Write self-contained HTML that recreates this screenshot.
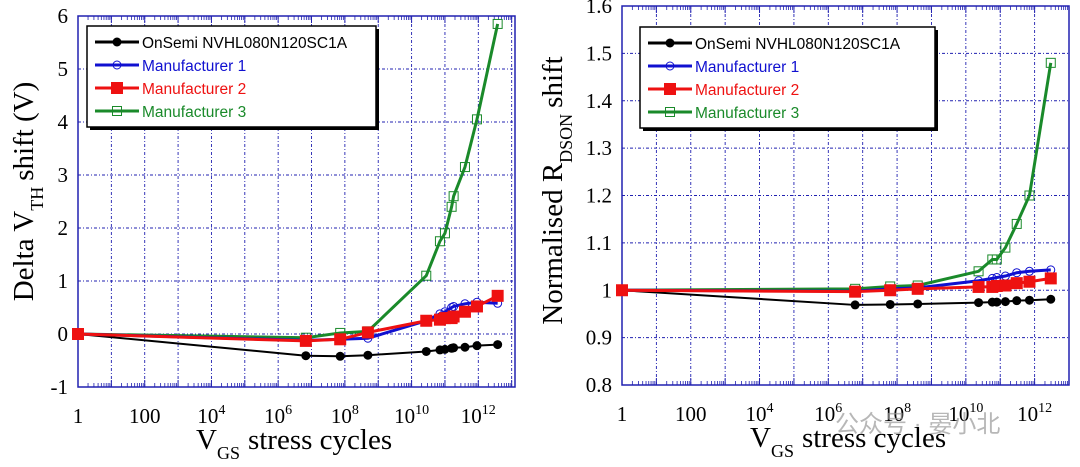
<!DOCTYPE html>
<html><head><meta charset="utf-8"><style>
html,body{margin:0;padding:0;background:#fff;width:1080px;height:467px;overflow:hidden}
svg{display:block}
</style></head><body>
<svg id="s" width="1080" height="467" xmlns="http://www.w3.org/2000/svg"></svg>
<script>
// ---- Data: left chart (Delta VTH shift) ----
const seriesNames = ["OnSemi NVHL080N120SC1A","Manufacturer 1","Manufacturer 2","Manufacturer 3"];
const leftX = [0,6.83,7.86,8.69,10.44,10.85,11.0,11.2,11.26,11.6,11.96,12.58];
const leftOnSemi = [0,-0.41,-0.42,-0.4,-0.33,-0.3,-0.29,-0.27,-0.26,-0.25,-0.22,-0.2];
const leftM1 = [0,-0.12,-0.1,-0.08,0.25,0.38,0.42,0.5,0.52,0.57,0.6,0.58];
const leftM2 = [0,-0.13,-0.1,0.03,0.25,0.27,0.3,0.3,0.33,0.42,0.52,0.72];
const leftM3 = [0,-0.07,0.02,0.05,1.1,1.75,1.9,2.4,2.6,3.15,4.05,5.85];
const leftYTicks = [-1,0,1,2,3,4,5,6];
// ---- Data: right chart (Normalised RDSON shift) ----
const rightX = [0,6.78,7.8,8.6,10.37,10.77,10.9,11.15,11.48,11.85,12.47];
const rightOnSemi = [1,0.969,0.97,0.971,0.974,0.975,0.975,0.976,0.978,0.979,0.981];
const rightM1 = [1,0.998,1.003,1.005,1.02,1.025,1.027,1.03,1.037,1.04,1.043];
const rightM2 = [1,0.997,1.0,1.003,1.007,1.007,1.009,1.01,1.015,1.018,1.025];
const rightM3 = [1,1.003,1.008,1.01,1.04,1.065,1.065,1.09,1.14,1.2,1.48];
const rightYTicks = [0.8,0.9,1,1.1,1.2,1.3,1.4,1.5,1.6];
const xTickExp = [0,2,4,6,8,10,12];

const NS="http://www.w3.org/2000/svg";
const svg=document.getElementById('s');
function mk(tag,attrs,parent){const e=document.createElementNS(NS,tag);for(const k in attrs)e.setAttribute(k,attrs[k]);(parent||svg).appendChild(e);return e;}
const colors=["#000000","#1010d0","#ee1111","#1a8a2a"];
const markers=["dot","circle","square","osquare"];

function chart(cfg){
  const g=mk('g',{});
  
  
  const L=cfg.L,R=cfg.R,T=cfg.T,B=cfg.B;
  const xs=v=>L+(v-cfg.x0)/(cfg.x1-cfg.x0)*(R-L);
  const ys=v=>B-(v-cfg.y0)/(cfg.y1-cfg.y0)*(B-T);
  for(let d=1;d<cfg.x1;d++){const x=xs(d);const l=mk('line',{x1:x,x2:x,y1:T,y2:B,stroke:'#2020b0','stroke-width':0.9,'stroke-dasharray':'3,2,1,2'},g);}
  cfg.yt.forEach(v=>{const y=ys(v);const l=mk('line',{x1:L,x2:R,y1:y,y2:y,stroke:'#2020b0','stroke-width':0.9,'stroke-dasharray':'3,2,1,2'},g);});
  for(let d=0;d<Math.ceil(cfg.x1);d++){for(let m=2;m<10;m++){const v=d+Math.log10(m);if(v>cfg.x1)break;const x=xs(v);mk('line',{x1:x,x2:x,y1:T,y2:T+4,stroke:'#2020b0','stroke-width':0.8},g);mk('line',{x1:x,x2:x,y1:B,y2:B-4,stroke:'#2020b0','stroke-width':0.8},g);}
    const x=xs(d);mk('line',{x1:x,x2:x,y1:T,y2:T+7,stroke:'#2020b0'},g);mk('line',{x1:x,x2:x,y1:B,y2:B-7,stroke:'#2020b0'},g);}
  const frame=mk('rect',{x:L,y:T,width:R-L,height:B-T,fill:'none',stroke:'#2020b0','stroke-width':1.5},g);
  
  cfg.yt.forEach(v=>{const t=mk('text',{x:L-10,y:ys(v)+7,'text-anchor':'end','font-family':'Liberation Serif, serif','font-size':21},g);t.textContent=cfg.fmt(v);});
  xTickExp.forEach(e=>{const t=mk('text',{x:xs(e),y:B+36,'text-anchor':'middle','font-family':'Liberation Serif, serif','font-size':21},g);
    if(e===0)t.textContent='1';else if(e===2)t.textContent='100';else{t.textContent='10';const sp=mk('tspan',{dy:-9,'font-size':14},t);sp.textContent=String(e);}
    });
  const xt=mk('text',{x:cfg.xtx,y:B+62,'font-family':'Liberation Serif, serif','font-size':29},g);
  
  xt.appendChild(document.createTextNode('V'));const sub=mk('tspan',{dy:10,'font-size':18},xt);sub.textContent='GS';const rest=mk('tspan',{dy:-10,dx:8},xt);rest.textContent='stress cycles';
  const yt=mk('text',{transform:`translate(${cfg.ytx},${(T+B)/2+cfg.ytoff}) rotate(-90)`,'text-anchor':'middle','font-family':'Liberation Serif, serif','font-size':29},g);
  
  cfg.ytitle(yt);
  const order=[0,3,1,2];
  order.forEach(i=>{const ys_=cfg.series[i];const pts=cfg.xd.map((x,j)=>[xs(x),ys(ys_[j])]);
    const p=mk('polyline',{points:pts.map(q=>q.join(',')).join(' '),fill:'none',stroke:colors[i],'stroke-width':i===0?2:3},g);
    
    pts.forEach(q=>{drawMarker(g,markers[i],q[0],q[1],colors[i]);});
  });
  const lg=mk('g',{},g);
  mk('rect',{x:cfg.lx+3,y:cfg.ly+3,width:cfg.lw,height:101,fill:'#000'},lg);
  mk('rect',{x:cfg.lx,y:cfg.ly,width:cfg.lw,height:101,fill:'#fff',stroke:'#000','stroke-width':1.5},lg);
  seriesNames.forEach((n,i)=>{const y=cfg.ly+16+i*23;
    const e=mk('g',{},lg);
    mk('line',{x1:cfg.lx+8,x2:cfg.lx+52,y1:y,y2:y,stroke:colors[i],'stroke-width':3},e);
    drawMarker(e,markers[i],cfg.lx+30,y,colors[i]);
    const t=mk('text',{x:cfg.lx+55,y:y+6,'font-family':'Liberation Sans, sans-serif','font-size':15.5,fill:colors[i]},e);t.textContent=n;});
}
function drawMarker(g,type,x,y,c){
  if(type==='dot')mk('circle',{cx:x,cy:y,r:4.5,fill:c},g);
  else if(type==='circle')mk('circle',{cx:x,cy:y,r:4,fill:'none',stroke:c,'stroke-width':1},g);
  else if(type==='square')mk('rect',{x:x-6,y:y-6,width:12,height:12,fill:c},g);
  else mk('rect',{x:x-4.5,y:y-4.5,width:9,height:9,fill:'none',stroke:c,'stroke-width':1},g);
}
chart({name:'vth-chart',L:78,R:515,T:16,B:387,x0:0,x1:13.1,y0:-1,y1:6,yt:leftYTicks,fmt:v=>String(v),
  xd:leftX,series:[leftOnSemi,leftM1,leftM2,leftM3],xtx:196,ytx:33,ytoff:-10,lx:87,ly:26,lw:289,
  ytitle:t=>{t.appendChild(document.createTextNode('Delta V'));const s=mk('tspan',{dy:10,'font-size':18},t);s.textContent='TH';const r=mk('tspan',{dy:-10,dx:6},t);r.textContent='shift (V)';}});
chart({name:'rdson-chart',L:622,R:1069,T:6,B:385,x0:0,x1:13.0,y0:0.8,y1:1.6,yt:rightYTicks,fmt:v=>v===1?'1':v.toFixed(1),
  xd:rightX,series:[rightOnSemi,rightM1,rightM2,rightM3],xtx:750,ytx:562,ytoff:-5,lx:640,ly:27,lw:295,
  ytitle:t=>{t.appendChild(document.createTextNode('Normalised R'));const s=mk('tspan',{dy:10,'font-size':18},t);s.textContent='DSON';const r=mk('tspan',{dy:-10,dx:6},t);r.textContent='shift';}});
const wm=mk('text',{x:835,y:432,'font-family':'Liberation Sans, Noto Sans CJK SC, sans-serif','font-size':24,fill:'#999','fill-opacity':0.7});
wm.textContent='公众号 · 晏小北';


</script>
</body></html>
